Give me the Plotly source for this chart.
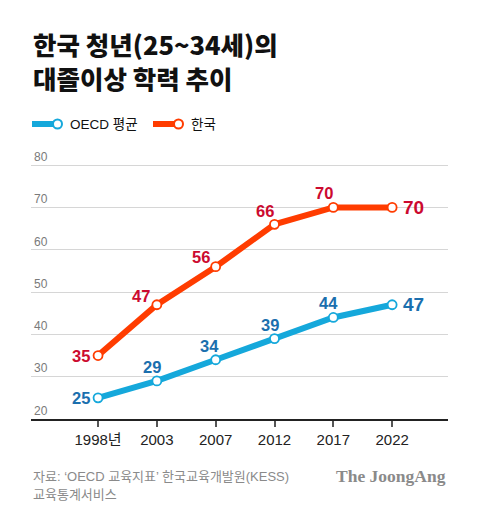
import plotly.graph_objects as go

# ---- data ----
years = ["1998년", "2003", "2007", "2012", "2017", "2022"]
oecd = [25, 29, 34, 39, 44, 47]
korea = [35, 47, 56, 66, 70, 70]
y_ticks = [20, 30, 40, 50, 60, 70, 80]

series_names = ["OECD 평균", "한국"]
title_lines = ["한국 청년(25~34세)의", "대졸이상 학력 추이"]
source_lines = ["자료: ‘OECD 교육지표’ 한국교육개발원(KESS)", "교육통계서비스"]
brand = "The JoongAng"

# ---- styles ----
W, H = 480, 524
ML, MR, MT, MB = 31, 32, 163, 105
PW, PH = W - ML - MR, H - MT - MB

BLUE = "#15a8db"
RED = "#ff3c00"
BLUE_TXT = "#1b6fae"
RED_TXT = "#cc0a2f"
KR = "Noto Sans CJK KR"
SANS = "Liberation Sans, Noto Sans CJK KR"


def px(x, y):
    return (x - ML) / PW, (H - MB - y) / PH


# label offsets (pixels) for each point
korea_off = [(-17, 0), (-16, 9), (-15, 10), (-10, 13), (-9, 14), (21, 0)]
oecd_off = [(-17, 0), (-5, 14), (-6, 14), (-5, 14), (-5, 14), (21, 0)]

fig = go.Figure()
for name, vals, col in [(series_names[0], oecd, BLUE), (series_names[1], korea, RED)]:
    fig.add_trace(go.Scatter(
        x=years, y=vals, name=name, mode="lines+markers",
        line=dict(color=col, width=6),
        marker=dict(size=9, color="white", line=dict(color=col, width=1.8)),
        showlegend=False, hoverinfo="skip",
    ))

annotations = []
for vals, offs, col in [(korea, korea_off, RED_TXT), (oecd, oecd_off, BLUE_TXT)]:
    for i, v in enumerate(vals):
        last = i == len(vals) - 1
        annotations.append(dict(
            x=i, y=v, xref="x", yref="y", text=f"<b>{v}</b>", showarrow=False,
            xshift=offs[i][0], yshift=offs[i][1], xanchor="center", yanchor="middle",
            font=dict(family=SANS, size=19 if last else 16.5, color=col),
        ))

# title
for i, t in enumerate(title_lines):
    xx, yy = px(31, 43 + 34 * i)
    annotations.append(dict(x=xx, y=yy, xref="paper", yref="paper", text=t,
                            showarrow=False, xanchor="left", yanchor="middle",
                            font=dict(family=KR, size=25.5, color="#111", weight=900)))

# legend
shapes = []
for (x0, name, col) in [(32, series_names[0], BLUE), (153, series_names[1], RED)]:
    ax0, ay = px(x0, 124)
    ax1, _ = px(x0 + 25, 124)
    shapes.append(dict(type="line", xref="paper", yref="paper", x0=ax0, x1=ax1, y0=ay, y1=ay,
                       line=dict(color=col, width=6)))
    cx0, cy0 = px(x0 + 21, 128.5)
    cx1, cy1 = px(x0 + 30, 119.5)
    shapes.append(dict(type="circle", xref="paper", yref="paper", x0=cx0, x1=cx1, y0=cy0, y1=cy1,
                       fillcolor="white", line=dict(color=col, width=2)))
    tx, ty = px(x0 + 36, 124)
    annotations.append(dict(x=tx, y=ty, xref="paper", yref="paper", text=name, showarrow=False,
                            xanchor="left", yanchor="middle",
                            font=dict(family=SANS, size=13.5, color="#111")))

# source
for i, t in enumerate(source_lines):
    xx, yy = px(31, 476 + 18 * i)
    annotations.append(dict(x=xx, y=yy, xref="paper", yref="paper", text=t, showarrow=False,
                            xanchor="left", yanchor="middle",
                            font=dict(family=SANS, size=13, color="#8a8a8a")))
bx, by = px(448, 476)
annotations.append(dict(x=bx, y=by, xref="paper", yref="paper", text=f"<b>{brand}</b>",
                        showarrow=False, xanchor="right", yanchor="middle",
                        font=dict(family="Liberation Serif", size=17.5, color="#8a8a8a")))

fig.update_layout(
    width=W, height=H, margin=dict(l=ML, r=MR, t=MT, b=MB),
    plot_bgcolor="white", paper_bgcolor="white",
    annotations=annotations, shapes=shapes,
    xaxis=dict(type="category", range=[-1.14, 5.95], showgrid=False, zeroline=False,
               showline=True, linecolor="#222", linewidth=1.5,
               ticks="outside", ticklen=6, tickwidth=1.5, tickcolor="#555",
               tickfont=dict(family=SANS, size=15, color="#222"), fixedrange=True),
    yaxis=dict(range=[20, 80.5], tickvals=y_ticks, showgrid=True, gridcolor="#d6d6d6",
               gridwidth=1.3, zeroline=False, showline=False, ticks="",
               ticklabelposition="inside top", ticklabeloverflow="allow",
               tickfont=dict(family=SANS, size=12, color="#7a7a7a"), fixedrange=True),
)

fig.write_html("out.html", config={"displayModeBar": False},
               post_script="document.body.style.margin='0';document.body.style.overflow='hidden';")
